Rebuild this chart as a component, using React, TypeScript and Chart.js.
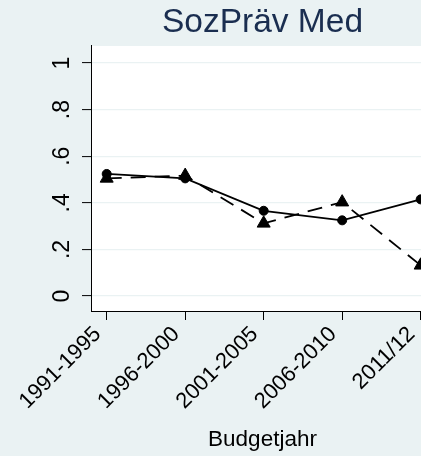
import React, { useEffect, useRef } from "react";
import { Chart, registerables } from "chart.js";

Chart.register(...registerables);

const categories = ["1991-1995", "1996-2000", "2001-2005", "2006-2010", "2011/12"];
const seriesCircle = [0.524, 0.505, 0.366, 0.325, 0.415];
const seriesTriangle = [0.505, 0.517, 0.312, 0.403, 0.132];
const yTickValues = [0, 0.2, 0.4, 0.6, 0.8, 1];
const yTickLabels = ["0", ".2", ".4", ".6", ".8", "1"];
const titleText = "SozPräv Med";
const xAxisTitle = "Budgetjahr";

const FONT = "'Liberation Sans', Arial, Helvetica, sans-serif";
const BG = "#EAF2F3";

const bgPlugin = {
  id: "stataBg",
  beforeDraw(chart: any) {
    const { ctx, chartArea: a, width, height } = chart;
    ctx.save();
    ctx.fillStyle = BG;
    ctx.fillRect(0, 0, width, height);
    ctx.fillStyle = "#FFFFFF";
    ctx.fillRect(a.left, a.top, a.right - a.left, a.bottom - a.top);
    ctx.restore();
  },
};

export default function App() {
  const ref = useRef<HTMLCanvasElement | null>(null);

  useEffect(() => {
    if (!ref.current) return;
    Chart.defaults.font.family = FONT;
    const chart = new Chart(ref.current, {
      type: "line",
      data: {
        datasets: [
          {
            data: categories.map((_, i) => ({ x: i, y: seriesCircle[i] })),
            xAxisID: "x",
            yAxisID: "y",
            borderColor: "#000",
            backgroundColor: "#000",
            borderWidth: 1.8,
            pointStyle: "circle",
            pointRadius: 4.5,
            pointBorderWidth: 1,
            pointBackgroundColor: "#000",
            pointBorderColor: "#000",
            tension: 0,
          },
          {
            data: categories.map((_, i) => ({ x: i, y: seriesTriangle[i] })),
            xAxisID: "x",
            yAxisID: "y",
            borderColor: "#000",
            backgroundColor: "#000",
            borderWidth: 1.8,
            borderDash: [15, 9],
            pointStyle: "triangle",
            pointRadius: 7.5,
            pointBorderWidth: 1,
            pointBackgroundColor: "#000",
            pointBorderColor: "#000",
            tension: 0,
          },
        ],
      },
      options: {
        animation: false,
        responsive: false,
        devicePixelRatio: 1,
        layout: { padding: 0 },
        plugins: {
          legend: { display: false },
          tooltip: { enabled: false },
          title: {
            display: true,
            text: titleText,
            color: "#1A2E50",
            font: { family: FONT, size: 33.5, weight: "normal", lineHeight: 1.2 },
            padding: { top: 2.5, bottom: 3.3 },
          },
        },
        scales: {
          x: {
            type: "linear",
            min: -0.2,
            max: 4.17,
            afterBuildTicks: (s: any) => {
              s.ticks = categories.map((_, i) => ({ value: i }));
            },
            afterFit: (s: any) => {
              s.height = 145;
            },
            ticks: {
              minRotation: 45,
              maxRotation: 45,
              autoSkip: false,
              padding: 3,
              labelOffset: -9,
              color: "#000",
              font: { family: FONT, size: 22, lineHeight: 1 },
              callback: (v: any) => categories[Math.round(Number(v))] ?? "",
            },
            grid: {
              drawOnChartArea: false,
              drawTicks: true,
              tickLength: 9,
              tickColor: "#000",
              tickWidth: 1,
            },
            border: { display: true, color: "#000", width: 1 },
            title: {
              display: true,
              text: xAxisTitle,
              color: "#000",
              font: { family: FONT, size: 22.5 },
              padding: { top: 0, bottom: 3 },
            },
          },
          y: {
            type: "linear",
            position: "left",
            min: -0.064,
            max: 1.073,
            afterBuildTicks: (s: any) => {
              s.ticks = yTickValues.map((v) => ({ value: v }));
            },
            afterFit: (s: any) => {
              s.width = 91;
            },
            ticks: {
              minRotation: 90,
              maxRotation: 90,
              crossAlign: "center",
              padding: 10,
              color: "#000",
              font: { family: FONT, size: 23 },
              callback: (_v: any, i: number) => yTickLabels[i],
            },
            grid: {
              color: BG,
              lineWidth: 1.2,
              drawTicks: true,
              tickLength: 9,
              tickColor: "#000",
              tickWidth: 1,
            },
            border: { display: true, color: "#000", width: 1 },
          },
          yRight: {
            type: "linear",
            position: "right",
            display: true,
            ticks: { display: false },
            grid: { display: false },
            border: { display: false },
            afterFit: (s: any) => {
              s.width = 91;
            },
          },
        },
      } as any,
      plugins: [bgPlugin],
    });
    return () => chart.destroy();
  }, []);

  return (
    <div
      style={{
        position: "absolute",
        left: 0,
        top: 0,
        width: 421,
        height: 456,
        overflow: "hidden",
        background: BG,
      }}
    >
      <canvas
        ref={ref}
        width={525}
        height={456}
        style={{ display: "block", width: 525, height: 456 }}
      />
    </div>
  );
}
